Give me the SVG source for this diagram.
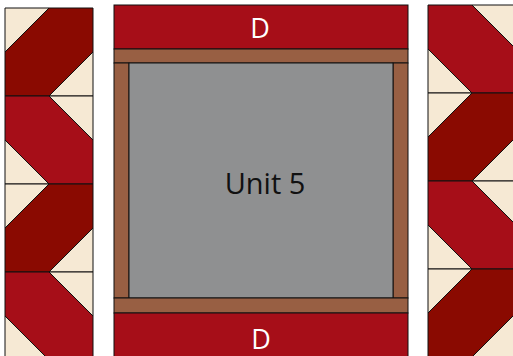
<svg xmlns="http://www.w3.org/2000/svg" xmlns:xlink="http://www.w3.org/1999/xlink" width="513" height="356" viewBox="0 0 513 356">
<style>
.s{stroke:#111;stroke-width:1;stroke-linejoin:miter}
.cr{fill:#F6E9D4}
.dk{fill:#8A0A01}
.rd{fill:#A60E18}
.br{fill:#985F43}
.gy{fill:#8F9091}
.lbl{font-family:"Open Sans","Liberation Sans",sans-serif;text-anchor:middle}
</style>
<defs>
<g id="blkDark">
<polygon class="s cr" points="0,0 44,0 0,44"/>
<polygon class="s dk" points="44,0 88,0 88,44 44,88 0,88 0,44"/>
<polygon class="s cr" points="88,44 88,88 44,88"/>
</g>
<g id="blkRed">
<polygon class="s rd" points="0,0 44,0 88,44 88,88 44,88 0,44"/>
<polygon class="s cr" points="44,0 88,0 88,44"/>
<polygon class="s cr" points="0,44 0,88 44,88"/>
</g>
</defs>
<rect width="513" height="356" fill="#fff"/>
<g id="left-strip">
<use xlink:href="#blkDark" x="5" y="8"/>
<use xlink:href="#blkRed" x="5" y="96"/>
<use xlink:href="#blkDark" x="5" y="184"/>
<use xlink:href="#blkRed" x="5" y="272"/>
</g>
<g id="right-strip">
<use xlink:href="#blkRed" x="428" y="5"/>
<use xlink:href="#blkDark" x="428" y="93"/>
<use xlink:href="#blkRed" x="428" y="181"/>
<use xlink:href="#blkDark" x="428" y="269"/>
</g>
<g id="unit5">
<rect class="s rd" x="114" y="5" width="294" height="44"/>
<rect class="s br" x="114" y="49" width="294" height="14"/>
<rect class="s br" x="114" y="63" width="15" height="235"/>
<rect class="s br" x="393" y="63" width="15" height="235"/>
<rect class="s gy" x="129" y="63" width="264" height="235"/>
<rect class="s br" x="114" y="298" width="294" height="15"/>
<rect class="s rd" x="114" y="313" width="294" height="44"/>
<text class="lbl" x="260" y="38" font-size="27" fill="#fff">D</text>
<text class="lbl" x="265" y="194" font-size="29" fill="#111">Unit 5</text>
<text class="lbl" x="261" y="349" font-size="27" fill="#fff">D</text>
</g>
</svg>
